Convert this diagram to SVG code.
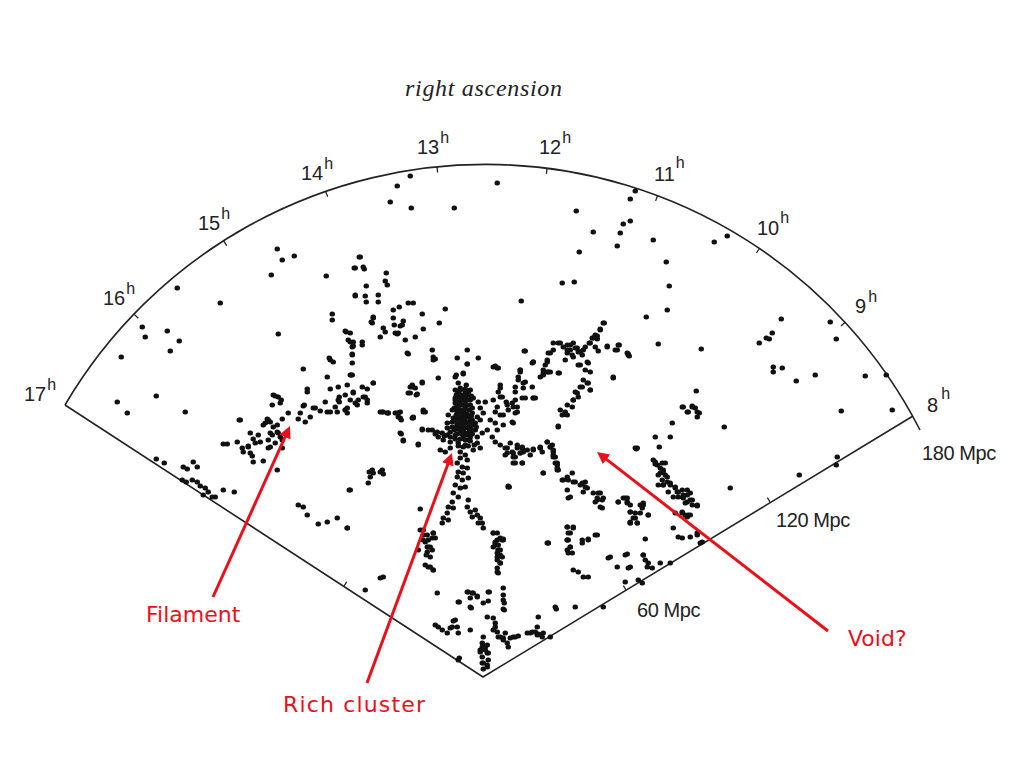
<svg xmlns="http://www.w3.org/2000/svg" width="1024" height="768" viewBox="0 0 1024 768">
<style>
.frame{fill:none;stroke:#222;stroke-width:1.6}
.tick{stroke:#222;stroke-width:1.3}
.dots{fill:none;stroke:#111;stroke-width:5;stroke-linecap:round}
.hr{font-family:"Liberation Sans",Arial,sans-serif;font-size:20px;fill:#222}
.sup{font-size:16px}
.mpc{font-family:"Liberation Sans",Arial,sans-serif;font-size:20px;fill:#222;letter-spacing:-0.4px}
.title{font-family:"Liberation Serif","Times New Roman",serif;font-style:italic;font-size:24px;fill:#222}
.red{font-family:"DejaVu Sans",sans-serif;font-size:22px;fill:#e8101a}
.arrow{stroke:#e8101a;stroke-width:3;fill:none;marker-end:url(#ah)}
</style>
<defs>
<marker id="ah" viewBox="0 0 10 10" refX="4" refY="5" markerWidth="4" markerHeight="4" orient="auto" markerUnits="strokeWidth"><path d="M0,0 L10,5 L0,10 z" fill="#e8101a"/></marker>
</defs>
<rect width="1024" height="768" fill="#fff"/>
<g id="fan">
<path class="frame" d="M65,405 L483,677 L913,416"/>
<path class="frame" d="M65,405 A488,488 0 0 1 920,430"/>
<path class="tick" d="M134,314.1L138.3,318.2M223.5,240.7L226.7,245.7M325.6,191.1L327.6,196.8M437,166.5L437.6,172.5M547.1,167.8L546.4,173.8M657.7,195.2L655.6,200.9M759.7,248L756.4,253M845.4,321.9L841,325.9M344,586L346.7,581.8M626,590L623.4,585.7M770,502L767.4,497.7"/>
</g>
<g id="dots">
<path class="dots" d="M277 249h.5M282 260h.5M294 256h.5M271 275h.5M326 276h.5M359 257h.5M354 268h.5M355 296h.5M177 288h.5M220 303h.5M142 327h.5M145 337h.5M167 331h.5M179 341h.5M170 351h.5M121 357h.5M278 334h.5M332 314h.5M332 320h.5M346 332h.5M350 333h.5M350 342h.5M353 346h.5M352 354h.5M330 360h.5M333 362h.5M352 363h.5M303 369h.5M327 377h.5M351 375h.5M307 389h.5M330 389h.5M338 387h.5M347 385h.5M353 392h.5M156 396h.5M275 396h.5M278 397h.5M339 397h.5"/>
<path class="dots" d="M410 176h.5M397 186h.5M390 202h.5M411 208h.5M454 208h.5M497 183h.5M576 211h.5M593 232h.5M579 252h.5M635 191h.5M630 199h.5M623 224h.5M630 221h.5M620 233h.5M617 246h.5M562 283h.5M574 282h.5M521 301h.5M360 257h.5M355 268h.5M363 267h.5M364 269h.5M386 273h.5M385 281h.5M387 285h.5M366 286h.5M355 295h.5M365 296h.5M366 302h.5M378 295h.5M378 302h.5M399 307h.5M408 303h.5M413 303h.5M393 310h.5M422 314h.5M445 309h.5M373 318h.5M372 323h.5M393 318h.5M403 321h.5M400 326h.5M383 328h.5M385 332h.5M395 333h.5M398 333h.5M380 337h.5M423 329h.5M439 323h.5M415 337h.5M405 340h.5M345 331h.5M362 342h.5M362 345h.5M352 347h.5M407 353h.5M432 350h.5M433 357h.5M435 359h.5M457 358h.5M467 350h.5M467 364h.5M478 358h.5M493 367h.5M497 368h.5M525 351h.5M533 362h.5M548 353h.5M547 360h.5M543 370h.5M553 350h.5M560 343h.5M567 345h.5M570 350h.5M573 343h.5M577 348h.5M580 352h.5M583 350h.5M567 353h.5M573 357h.5M589 343h.5M593 338h.5M597 336h.5M600 330h.5M603 323h.5M595 347h.5M598 351h.5M587 362h.5M578 365h.5M607 347h.5M617 350h.5M619 345h.5M628 355h.5M558 373h.5M550 372h.5M520 370h.5M540 377h.5M613 377h.5M438 378h.5M455 377h.5M463 373h.5"/>
<path class="dots" d="M653 240h.5M666 262h.5M669 286h.5M667 310h.5M646 317h.5M658 344h.5M701 349h.5M627 353h.5M629 356h.5M714 242h.5M727 236h.5M781 319h.5M759 343h.5M766 338h.5M769 339h.5M772 333h.5M773 367h.5M773 372h.5M782 368h.5M796 381h.5M815 375h.5M830 322h.5M836 339h.5M865 376h.5M886 375h.5M841 411h.5M892 410h.5M696 391h.5M683 407h.5M688 412h.5M692 406h.5M695 408h.5M699 413h.5M697 417h.5M672 423h.5M724 427h.5"/>
<path class="dots" d="M117 402h.5M127 413h.5M185 412h.5M240 420h.5M250 433h.5M273 395h.5M280 403h.5M272 405h.5M307 392h.5M355 403h.5M303 406h.5M313 408h.5M320 411h.5M327 412h.5M337 412h.5M345 410h.5M338 400h.5M325 402h.5M300 413h.5M298 419h.5M305 422h.5M288 413h.5M282 419h.5M267 419h.5M265 423h.5M270 422h.5M273 427h.5M277 432h.5M272 435h.5M280 437h.5M275 443h.5M258 435h.5M255 443h.5M268 448h.5M282 448h.5M223 444h.5M227 444h.5M237 442h.5M242 448h.5M243 452h.5M248 446h.5M250 453h.5M252 456h.5M253 462h.5M263 461h.5M277 470h.5M156 459h.5M164 463h.5M183 467h.5M187 469h.5M193 462h.5M197 467h.5M182 480h.5M186 482h.5M192 480h.5M197 482h.5M200 486h.5M205 488h.5M208 492h.5M212 497h.5M215 497h.5M203 495h.5M223 490h.5M234 492h.5M349 490h.5M298 505h.5M303 507h.5M307 515h.5M318 524h.5M327 522h.5M337 518h.5M347 528h.5"/>
<path class="dots" d="M373 317h.5M371 322h.5M394 325h.5M402 325h.5M397 334h.5M348 340h.5M353 342h.5M352 355h.5M352 375h.5M329 358h.5M362 387h.5M367 389h.5M373 383h.5M363 397h.5M367 400h.5M357 405h.5M350 400h.5M339 402h.5M345 410h.5M347 413h.5M335 407h.5M330 412h.5M315 408h.5M310 417h.5M304 405h.5M281 400h.5M268 420h.5M277 425h.5M278 433h.5M270 433h.5M282 440h.5M263 425h.5M260 442h.5M268 440h.5M239 420h.5M253 439h.5M248 447h.5M270 447h.5M380 412h.5M388 413h.5M397 413h.5M398 417h.5M401 420h.5M412 418h.5M401 434h.5M403 441h.5M418 444h.5M422 429h.5M423 412h.5M412 387h.5M415 388h.5M410 393h.5M417 394h.5M422 383h.5M408 354h.5M369 472h.5M373 473h.5M382 470h.5M383 474h.5"/>
<path class="dots" d="M433 360h.5M467 364h.5M495 366h.5M498 368h.5M520 370h.5M543 373h.5M548 372h.5M532 363h.5M456 375h.5M463 374h.5M422 382h.5M412 385h.5M408 393h.5M416 395h.5M518 377h.5M523 383h.5M515 387h.5M500 385h.5M498 392h.5M500 397h.5M493 400h.5M497 407h.5M495 412h.5M500 415h.5M506 402h.5M512 403h.5M517 407h.5M515 413h.5M525 398h.5M533 398h.5M512 422h.5M473 398h.5M478 402h.5M485 402h.5M480 408h.5M483 413h.5M490 420h.5M495 423h.5M497 430h.5M492 437h.5M495 442h.5M500 445h.5M505 448h.5M507 453h.5M513 457h.5M520 453h.5M522 448h.5M517 445h.5M527 450h.5M533 449h.5M540 448h.5M547 442h.5M552 445h.5M553 452h.5M555 457h.5M557 463h.5M557 468h.5M530 455h.5M513 463h.5M522 463h.5M543 473h.5M508 486h.5M547 543h.5"/>
<path class="dots" d="M458 392h.5M465 392h.5M468 393h.5M457 397h.5M462 398h.5M467 400h.5M455 403h.5M460 405h.5M465 407h.5M470 405h.5M452 410h.5M457 412h.5M462 413h.5M467 415h.5M472 413h.5M448 415h.5M477 417h.5M480 420h.5M458 418h.5M463 420h.5M468 422h.5M457 425h.5M462 427h.5M467 427h.5M472 425h.5M460 432h.5M465 433h.5M470 432h.5M475 430h.5M455 435h.5M463 438h.5M468 440h.5M477 437h.5M482 433h.5M487 430h.5M477 443h.5M480 448h.5M473 450h.5M432 430h.5M437 432h.5M442 433h.5M447 435h.5M450 432h.5M438 437h.5M443 440h.5M450 442h.5M440 450h.5M445 452h.5M450 448h.5M428 430h.5M422 430h.5M447 423h.5M452 422h.5M400 433h.5M403 440h.5M418 445h.5M423 410h.5M413 417h.5M400 412h.5M395 413h.5M388 413h.5M383 412h.5M460 410h.5M465 417h.5M460 422h.5M470 418h.5M455 428h.5M465 445h.5M470 437h.5M458 443h.5M475 423h.5M463 430h.5M455 398h.5M460 388h.5M466 385h.5M458 383h.5M470 428h.5M453 418h.5"/>
<path class="dots" d="M455 390h.5M460 390h.5M465 389h.5M470 390h.5M456 395h.5M461 395h.5M466 396h.5M471 396h.5M455 400h.5M460 401h.5M465 401h.5M470 400h.5M457 406h.5M462 405h.5M467 405h.5M472 408h.5M454 408h.5M459 410h.5M464 410h.5M469 410h.5M456 415h.5M461 416h.5M466 414h.5M471 416h.5M455 420h.5M460 420h.5M465 421h.5M470 421h.5M457 424h.5M462 424h.5M467 424h.5M472 420h.5M454 430h.5M459 429h.5M464 428h.5M469 430h.5M457 434h.5M462 434h.5M467 435h.5M472 434h.5M455 439h.5M460 439h.5M465 440h.5M470 441h.5M458 446h.5M463 447h.5M468 446h.5M474 445h.5M452 427h.5M476 427h.5M450 437h.5M447 428h.5M444 436h.5M435 434h.5"/>
<path class="dots" d="M460 452h.5M465 455h.5M460 458h.5M467 460h.5M457 463h.5M462 467h.5M467 468h.5M458 472h.5M463 473h.5M457 477h.5M462 480h.5M468 478h.5M455 485h.5M460 488h.5M465 487h.5M453 493h.5M458 497h.5M452 502h.5M448 507h.5M453 508h.5M447 513h.5M443 518h.5M442 523h.5M448 520h.5M468 500h.5M467 507h.5M470 512h.5M475 510h.5M477 515h.5M480 518h.5M482 523h.5M478 523h.5M483 528h.5M472 517h.5M420 509h.5M497 533h.5M495 542h.5M498 545h.5M500 550h.5M497 553h.5M502 557h.5M420 530h.5M423 535h.5M428 540h.5M430 547h.5M427 552h.5M433 533h.5M418 550h.5"/>
<path class="dots" d="M350 375h.5M373 383h.5M410 387h.5M345 395h.5M353 393h.5M358 400h.5M365 397h.5M367 403h.5M347 408h.5M382 412h.5M387 413h.5M398 413h.5M400 418h.5M413 418h.5M425 412h.5M372 470h.5M380 472h.5M370 477h.5M368 483h.5M350 490h.5M347 528h.5M423 540h.5M427 547h.5M430 557h.5M428 567h.5M433 570h.5M432 538h.5M383 577h.5M380 578h.5M365 590h.5M437 593h.5M458 602h.5M467 592h.5M472 593h.5M477 597h.5M488 592h.5M470 607h.5M483 603h.5M487 617h.5M503 588h.5M503 600h.5M503 609h.5M493 618h.5M455 620h.5M457 627h.5M435 625h.5M438 627h.5M442 630h.5M447 633h.5M450 628h.5M458 633h.5M470 630h.5M495 627h.5M497 632h.5M500 637h.5M503 638h.5M507 643h.5M510 638h.5M505 633h.5M513 637h.5M527 633h.5M532 632h.5M537 635h.5M542 637h.5M537 627h.5M538 617h.5M483 637h.5M482 643h.5M485 647h.5M480 650h.5M487 653h.5M482 657h.5M488 660h.5M483 663h.5M487 667h.5M458 660h.5M493 533h.5M495 543h.5M498 550h.5M497 557h.5M500 563h.5M497 572h.5M502 540h.5M493 547h.5M509 487h.5M555 607h.5M575 607h.5M603 607h.5M548 543h.5M567 527h.5M573 527h.5M570 533h.5M567 540h.5M570 547h.5M572 553h.5M573 570h.5M578 572h.5M583 577h.5M588 577h.5M582 543h.5M588 540h.5M597 535h.5M608 558h.5M617 567h.5M625 555h.5M628 568h.5M562 480h.5M567 477h.5M573 482h.5M580 485h.5M585 482h.5M587 488h.5M598 493h.5M603 498h.5M597 500h.5M600 507h.5M618 502h.5M623 498h.5M627 503h.5M630 512h.5M633 518h.5M630 523h.5M570 497h.5M540 448h.5M550 447h.5M553 455h.5M557 465h.5M557 470h.5M522 447h.5M513 453h.5M635 448h.5M560 410h.5M567 405h.5M573 400h.5M577 393h.5M582 387h.5M587 383h.5M590 390h.5M558 427h.5M533 398h.5"/>
<path class="dots" d="M604 323h.5M600 329h.5M595 335h.5M592 338h.5M597 339h.5M590 343h.5M607 346h.5M618 345h.5M615 350h.5M628 354h.5M553 343h.5M558 343h.5M550 353h.5M563 347h.5M567 350h.5M570 345h.5M575 348h.5M578 352h.5M582 355h.5M585 347h.5M565 360h.5M572 355h.5M547 362h.5M545 365h.5M543 375h.5M547 372h.5M533 362h.5M524 351h.5M559 373h.5M580 365h.5M588 363h.5M585 370h.5M590 372h.5M583 380h.5M588 383h.5M580 387h.5M590 390h.5M575 392h.5M578 397h.5M573 400h.5M572 407h.5M565 412h.5M562 415h.5M567 415h.5M613 378h.5M558 426h.5M520 372h.5M518 380h.5M525 382h.5M523 388h.5M532 387h.5M515 392h.5M522 398h.5M515 400h.5M507 405h.5M513 407h.5M517 412h.5M508 410h.5M503 415h.5M503 425h.5M513 423h.5M535 398h.5M500 388h.5M502 397h.5M510 443h.5M507 448h.5M505 455h.5M512 452h.5M517 448h.5M520 453h.5M523 452h.5M515 457h.5M522 463h.5M515 463h.5M533 450h.5M540 447h.5M542 452h.5M547 442h.5M550 447h.5M553 450h.5M553 457h.5M555 463h.5M558 470h.5M543 473h.5M508 487h.5M563 480h.5M568 480h.5M572 473h.5M575 482h.5M582 483h.5M585 487h.5M583 492h.5M567 490h.5M568 498h.5M593 493h.5M597 498h.5M600 493h.5M602 500h.5M595 502h.5M602 508h.5M618 502h.5M625 498h.5M627 502h.5M643 505h.5M642 508h.5M640 513h.5M648 515h.5M630 512h.5M635 518h.5M630 523h.5M637 523h.5M637 448h.5M655 437h.5M670 437h.5M659 447h.5M655 462h.5M657 465h.5M662 463h.5M663 470h.5M660 473h.5M665 475h.5M658 485h.5M663 485h.5M667 482h.5M675 487h.5M678 492h.5M683 495h.5M687 490h.5M690 493h.5M692 500h.5M687 502h.5M697 505h.5M682 512h.5M685 515h.5M688 515h.5M670 485h.5M668 492h.5M673 497h.5M673 528h.5M682 538h.5M690 537h.5M697 535h.5M645 539h.5M675 513h.5M682 407h.5M687 412h.5M692 407h.5M697 412h.5M567 527h.5M573 528h.5M568 533h.5M568 540h.5M570 547h.5M568 553h.5M548 543h.5M582 540h.5M588 539h.5M595 535h.5M503 539h.5M627 554h.5M610 557h.5M643 555h.5M700 543h.5"/>
<path class="dots" d="M636 449h.5M653 460h.5M655 464h.5M660 468h.5M665 463h.5M663 472h.5M658 475h.5M662 480h.5M667 477h.5M663 485h.5M670 483h.5M675 488h.5M677 492h.5M682 490h.5M678 497h.5M683 498h.5M687 495h.5M690 500h.5M685 503h.5M692 505h.5M697 506h.5M682 513h.5M687 517h.5M690 515h.5M837 457h.5M836 465h.5M799 475h.5M730 488h.5M678 537h.5M697 533h.5M702 542h.5M627 498h.5M630 505h.5M640 505h.5M643 503h.5M635 513h.5M648 515h.5M630 522h.5M637 523h.5M643 555h.5M645 560h.5M648 563h.5M652 568h.5M647 567h.5M660 563h.5M630 567h.5M670 563h.5M638 580h.5M642 583h.5M625 582h.5"/>
<path class="dots" d="M423 530h.5M427 535h.5M425 542h.5M428 547h.5M432 550h.5M426 555h.5M425 565h.5M430 567h.5M433 570h.5M433 533h.5M435 538h.5M493 533h.5M497 540h.5M500 538h.5M495 545h.5M498 550h.5M500 555h.5M497 560h.5M500 563h.5M497 568h.5M498 573h.5M503 540h.5M567 540h.5M567 550h.5M468 592h.5M473 593h.5M477 596h.5M489 592h.5M459 602h.5M471 608h.5M470 598h.5M488 601h.5M503 595h.5M504 603h.5M504 610h.5M556 609h.5M495 623h.5M453 621h.5M452 627h.5M493 630h.5M498 637h.5M503 640h.5M508 647h.5M515 637h.5M518 636h.5M530 633h.5M535 632h.5M538 634h.5M543 633h.5M487 645h.5M482 647h.5M485 650h.5M480 652h.5M488 653h.5M482 663h.5M487 665h.5M483 669h.5M459 658h.5M550 637h.5"/>
</g>
<g id="title">
<text class="title" x="405" y="96" textLength="157">right ascension</text>
</g>
<g id="hour-labels">
<text class="hr" x="24" y="401">17<tspan class="sup" dx="1" dy="-11">h</tspan></text>
<text class="hr" x="103" y="305">16<tspan class="sup" dx="1" dy="-11">h</tspan></text>
<text class="hr" x="198" y="230">15<tspan class="sup" dx="1" dy="-11">h</tspan></text>
<text class="hr" x="301" y="180">14<tspan class="sup" dx="1" dy="-11">h</tspan></text>
<text class="hr" x="417" y="154">13<tspan class="sup" dx="1" dy="-11">h</tspan></text>
<text class="hr" x="539" y="154">12<tspan class="sup" dx="1" dy="-11">h</tspan></text>
<text class="hr" x="654" y="181">11<tspan class="sup" dx="1" dy="-13">h</tspan></text>
<text class="hr" x="757" y="235">10<tspan class="sup" dx="1" dy="-12">h</tspan></text>
<text class="hr" x="855" y="313">9<tspan class="sup" dx="2" dy="-11">h</tspan></text>
<text class="hr" x="927" y="412">8<tspan class="sup" dx="3" dy="-13">h</tspan></text>
</g>
<g id="distance-labels">
<text class="mpc" x="922" y="460">180 Mpc</text>
<text class="mpc" x="776" y="527">120 Mpc</text>
<text class="mpc" x="637" y="617">60 Mpc</text>
</g>
<g id="label-filament"><text class="red" x="146" y="622">Filament</text></g>
<g id="label-rich-cluster"><text class="red" x="283" y="712" textLength="142">Rich cluster</text></g>
<g id="label-void"><text class="red" x="848" y="646">Void?</text></g>
<g id="connectors">
<path class="arrow" d="M213,597 L287,432.6"/>
<path class="arrow" d="M367,683 L449.5,459.8"/>
<path class="arrow" d="M828,631 L602.7,456.4"/>
</g>
</svg>
